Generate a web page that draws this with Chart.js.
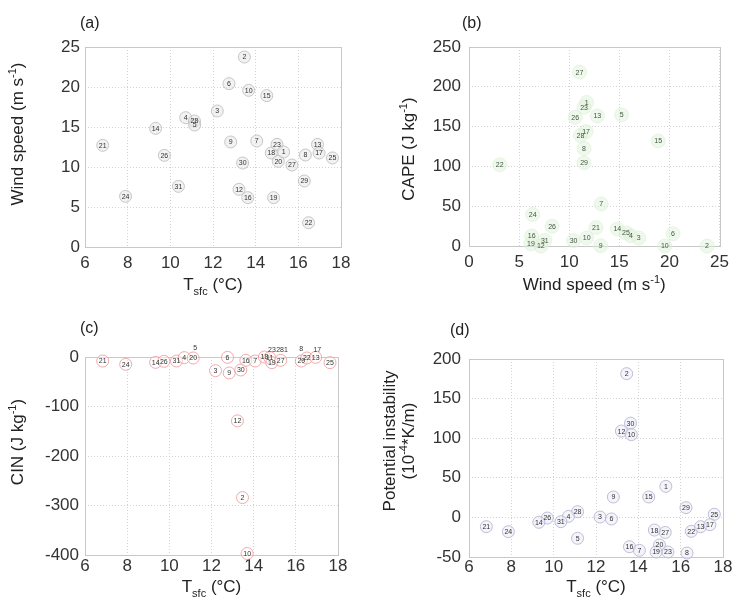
<!DOCTYPE html>
<html><head><meta charset="utf-8">
<script src="https://cdn.jsdelivr.net/npm/chart.js@4.4.0/dist/chart.umd.min.js"></script>
<style>
html,body{margin:0;padding:0;background:#fff;}
#wrap{position:relative;width:735px;height:605px;overflow:hidden;background:#fff;}
canvas{position:absolute;}
</style></head><body>
<div id="wrap">
<canvas id="ca" style="left:0px;top:0px;width:367px;height:302px" width="367" height="302"></canvas>
<canvas id="cb" style="left:367px;top:0px;width:368px;height:302px" width="368" height="302"></canvas>
<canvas id="cc" style="left:0px;top:302px;width:367px;height:303px" width="367" height="303"></canvas>
<canvas id="cd" style="left:367px;top:302px;width:368px;height:303px" width="368" height="303"></canvas>
</div>
<script>
// ---- Panel (a): surface temperature vs wind speed ----
const aTag  = ['21','24','14','26','31','4','28','5','3','6','9','12','30','2','16','10','7','15','18','19','23','20','1','27','29','8','22','13','17','25'];
const aTemp = [6.83,7.9,9.31,9.72,10.38,10.72,11.13,11.14,12.2,12.75,12.83,13.22,13.39,13.47,13.63,13.67,14.05,14.52,14.73,14.84,15.0,15.06,15.31,15.7,16.28,16.33,16.48,16.9,16.97,17.6];
const aWind = [12.71,6.33,14.83,11.46,7.58,16.17,15.75,15.25,17.0,20.42,13.13,7.21,10.5,23.75,6.17,19.58,13.25,18.92,11.75,6.17,12.83,10.71,11.88,10.25,8.25,11.5,3.04,12.83,11.75,11.13];

// ---- Panel (b): wind speed vs CAPE ----
const bTag  = ['27','1','23','26','13','5','17','28','15','8','29','22','7','24','26','21','14','25','4','3','6','16','31','19','12','30','10','9','10','2'];
const bWind = [11.02,11.74,11.48,10.59,12.8,15.23,11.68,11.12,18.88,11.48,11.48,3.06,13.19,6.35,8.29,12.66,14.8,15.66,16.15,16.94,20.36,6.25,7.57,6.18,7.17,10.43,11.74,13.13,19.54,23.75];
const bCape = [218.5,180.3,174.4,161.8,163.4,164.7,143.7,138.7,132,122.7,104.6,102.1,52.9,39.5,24.8,23.1,21.4,16.4,13,10.1,15.5,12.6,7.1,2.9,0,6.7,10.1,0.4,0,0];

// ---- Panel (c): surface temperature vs CIN ----
const cTag  = ['21','24','14','26','31','4','20','6','3','9','30','16','7','18','11','19','27','29','22','13','25','12','2','10'];
const cTemp = [6.84,7.93,9.35,9.74,10.34,10.71,11.13,12.76,12.19,12.84,13.39,13.63,14.07,14.51,14.76,14.86,15.28,16.26,16.52,16.94,17.62,13.23,13.47,13.69];
const cCin  = [-8.1,-14.8,-10.8,-8.7,-8.1,-1.3,-2,-0.7,-27.6,-32.3,-26.2,-6.7,-8.1,0,-1.3,-11.4,-6.7,-8.1,-2,-0.7,-11.4,-129,-284,-397];
// labels placed above the zero line (no circle)
const cNoteTag  = ['5','23','28','1','8','17'];
const cNoteTemp = [11.23,14.87,15.25,15.53,16.25,17.02];
const cNoteCin  = [19,15.5,15.5,15.5,17,15.5];

// ---- Panel (d): surface temperature vs potential instability ----
const dTag  = ['2','30','12','10','1','9','15','29','25','28','4','26','14','31','3','6','21','24','5','18','27','22','13','17','20','16','7','19','23','8'];
const dTemp = [13.45,13.63,13.2,13.67,15.3,12.82,14.49,16.25,17.59,11.13,10.7,9.7,9.3,10.34,12.19,12.73,6.82,7.86,11.13,14.76,15.27,16.5,16.94,17.38,15.0,13.58,14.05,14.84,15.4,16.3];
const dPi   = [181.5,119,109,104.5,39.2,25.8,25.8,12.3,4,7.2,1.3,-0.8,-6.2,-5.4,0.5,-2,-11.7,-18,-26.4,-16,-19,-17.6,-11.7,-9.2,-34.8,-37,-41.6,-43.7,-43.7,-45];

// tick settings
const tempTicks = {min:6, max:18, step:2};
const windTicks = {min:0, max:25, step:5};
const capeTicks = {min:0, max:250, step:50};
const cinTicks  = {min:-400, max:0, step:100};
const piTicks   = {min:-50, max:200, step:50};

const FONT = '"Liberation Sans", Arial, Helvetica, sans-serif';

function pts(xs, ys){ return xs.map((x,i)=>({x:x, y:ys[i]})); }

function drawRich(ctx, segs, x, y, size){
  const parts = []; let total = 0;
  for (const s of segs){
    const t = s[0], k = s[1] || '';
    const fs = k ? Math.round(size*0.62) : size;
    ctx.font = fs + 'px ' + FONT;
    const w = ctx.measureText(t).width;
    parts.push({t, k, fs, w}); total += w;
  }
  let cx = x - total/2;
  for (const p of parts){
    ctx.font = p.fs + 'px ' + FONT;
    const dy = p.k === 'sub' ? size*0.32 : (p.k === 'sup' ? -size*0.42 : 0);
    ctx.fillText(p.t, cx, y + dy);
    cx += p.w;
  }
}

function panelPlugin(cfg){
  return {
    id: 'panel_' + cfg.name,
    beforeDatasetsDraw(chart){
      const {ctx, chartArea:a} = chart;
      ctx.save();
      ctx.strokeStyle = '#c8c8c8'; ctx.lineWidth = 1;
      ctx.strokeRect(Math.round(a.left)+0.5, Math.round(a.top)+0.5, Math.round(a.right-a.left), Math.round(a.bottom-a.top));
      ctx.restore();
    },
    afterDatasetsDraw(chart){
      const ctx = chart.ctx;
      ctx.save();
      ctx.font = '7px ' + FONT; ctx.textAlign = 'center'; ctx.textBaseline = 'middle';
      chart.data.datasets.forEach((ds, i) => {
        const meta = chart.getDatasetMeta(i);
        ctx.fillStyle = ds.tagColor || '#333';
        meta.data.forEach((el, j) => { ctx.fillText(ds.tags[j], el.x, el.y + 0.5); });
      });
      ctx.restore();
    },
    afterDraw(chart){
      const {ctx, chartArea:a} = chart;
      ctx.save();
      ctx.fillStyle = '#222'; ctx.textAlign = 'left'; ctx.textBaseline = 'alphabetic';
      ctx.font = '16px ' + FONT;
      ctx.fillText(cfg.name, cfg.labelX, cfg.labelY);
      drawRich(ctx, cfg.xTitle, (a.left + a.right)/2, cfg.xTitleY, 17);
      cfg.yTitles.forEach(t => {
        ctx.save();
        ctx.translate(t.x + 6, cfg.yTitleY);
        ctx.rotate(-Math.PI/2);
        drawRich(ctx, t.segs, 0, 0, 17);
        ctx.restore();
      });
      ctx.restore();
    }
  };
}

function axis(t, pad, fit, isX){
  return {
    type:'linear', min:t.min, max:t.max,
    ticks:{stepSize:t.step, padding:pad, color:'#333', font:{family:FONT, size:17}, autoSkip:false, maxRotation:0, includeBounds:true},
    grid:{color:'#d2d2d2', lineWidth:1, drawTicks:false},
    border:{display:false, dash:[1,2]},
    afterFit: s => { if (isX) s.height = fit; else s.width = fit; }
  };
}

function makeChart(id, cfg){
  new Chart(document.getElementById(id), {
    type:'scatter',
    data:{ datasets: cfg.datasets },
    options:{
      responsive:false, animation:false, devicePixelRatio:1,
      layout:{ padding:{ left:0, top:cfg.padTop, right:cfg.padRight, bottom:0 } },
      plugins:{ legend:{display:false}, tooltip:{enabled:false} },
      scales:{
        x: axis(cfg.xt, cfg.xPad, cfg.xFit, true),
        y: axis(cfg.yt, cfg.yPad, cfg.yFit, false)
      }
    },
    plugins:[panelPlugin(cfg)]
  });
}

const tempTitle = [['T'],['sfc','sub'],[' (°C)']];
const windTitle = [['Wind speed (m s'],['-1','sup'],[')']];

makeChart('ca', {
  name:'(a)', labelX:80, labelY:28,
  xTitle: tempTitle, xTitleY:290,
  yTitles:[{segs:windTitle, x:17}], yTitleY:134,
  padTop:47, padRight:26, xFit:55, yFit:85, xPad:6, yPad:5,
  xt: tempTicks, yt: windTicks,
  datasets:[{ data: pts(aTemp, aWind), tags: aTag, pointRadius:6, pointBackgroundColor:'rgba(230,230,230,0.5)', pointBorderColor:'rgba(190,190,190,0.85)', pointBorderWidth:1, clip:false }]
});

makeChart('cb', {
  name:'(b)', labelX:95, labelY:28,
  xTitle: windTitle, xTitleY:290,
  yTitles:[{segs:[['CAPE (J kg'],['-1','sup'],[')']], x:41}], yTitleY:149,
  padTop:47, padRight:12, xFit:56, yFit:102, xPad:6, yPad:8,
  xt: windTicks, yt: capeTicks,
  datasets:[{ data: pts(bWind, bCape), tags: bTag, tagColor:'#445544', pointRadius:7, pointBackgroundColor:'rgba(220,240,212,0.45)', pointBorderColor:'rgba(220,240,212,0.6)', pointBorderWidth:1, clip:false }]
});

makeChart('cc', {
  name:'(c)', labelX:80, labelY:31,
  xTitle: tempTitle, xTitleY:290,
  yTitles:[{segs:[['CIN (J kg'],['-1','sup'],[')']], x:17}], yTitleY:140,
  padTop:55, padRight:29, xFit:50, yFit:85, xPad:1, yPad:6,
  xt: tempTicks, yt: cinTicks,
  datasets:[
    { data: pts(cTemp, cCin), tags: cTag, pointRadius:6, pointBackgroundColor:'rgba(255,255,255,0.4)', pointBorderColor:'rgba(240,155,155,0.85)', pointBorderWidth:1, clip:false },
    { data: pts(cNoteTemp, cNoteCin), tags: cNoteTag, pointRadius:0, clip:false }
  ]
});

makeChart('cd', {
  name:'(d)', labelX:83, labelY:33,
  xTitle: tempTitle, xTitleY:290,
  yTitles:[{segs:[['Potential instability']], x:22}, {segs:[['(10'],['-4','sup'],['*K/m)']], x:41}], yTitleY:139,
  padTop:57, padRight:12, xFit:48, yFit:102, xPad:0, yPad:8,
  xt: tempTicks, yt: piTicks,
  datasets:[{ data: pts(dTemp, dPi), tags: dTag, pointRadius:6, pointBackgroundColor:'rgba(234,234,246,0.5)', pointBorderColor:'rgba(180,180,212,0.85)', pointBorderWidth:1, clip:false }]
});
</script>
</body></html>
